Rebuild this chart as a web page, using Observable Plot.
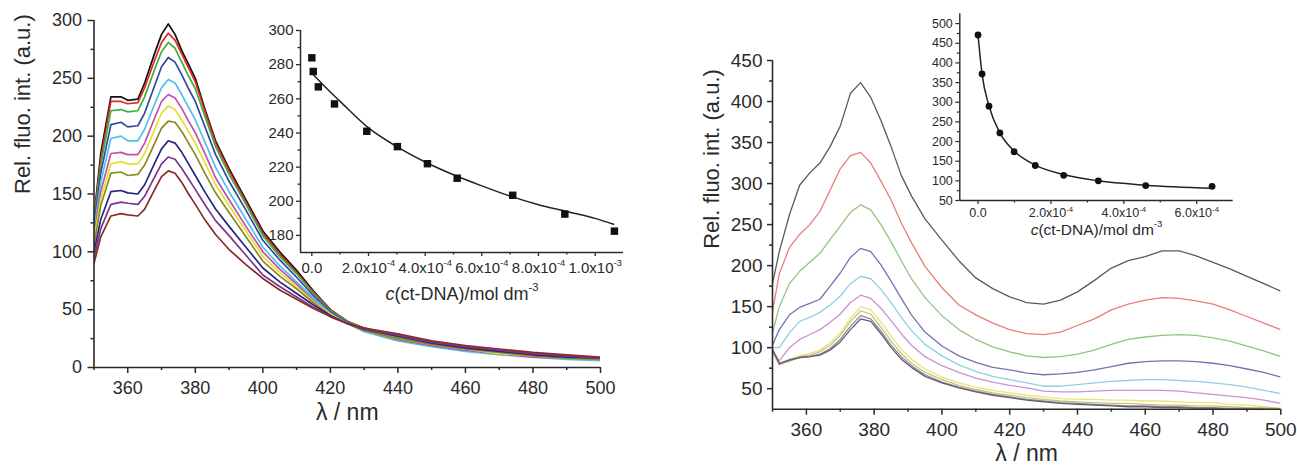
<!DOCTYPE html>
<html><head><meta charset="utf-8">
<script src="https://cdn.jsdelivr.net/npm/d3@7"></script>
<script src="https://cdn.jsdelivr.net/npm/@observablehq/plot@0.6"></script>
<style>
body{margin:0;background:#fff;}
#wrap{position:relative;width:1297px;height:471px;overflow:hidden;background:#fff;}
</style></head><body><div id="wrap"></div>
<script>
const FONT = '"Liberation Sans", Arial, Helvetica, sans-serif';
const AX = "#2a2a2a";

// ---------- Left panel: emission spectra ----------
const lamL = [350,352,355,358,360,363,365,368,370,372,374,376,378,380,383,386,390,395,400,405,410,415,420,425,430,440,450,460,470,480,490,500];
const colorsL = ["#111111","#e0262a","#3fae3a","#2f47a8","#4fc3e6","#c24fae","#e5df2e","#8a8a24","#262680","#7b358f","#8b2a2a"];
const specL0 = [130,185,234,234,231,232,246,272,288,297,288,274,262,250,222,196,172,145,118,100,84,66,50,40,34,27,21,17,13,11,9,8];
const specL1 = [128,180,230,230,228,229,242,266,281,289,283,271,259,247,220,194,170,143,116,98,82,65,50,40,34,27,21,17,14,11,9,8];
const specL2 = [126,175,222,223,221,222,234,258,273,281,276,264,252,241,216,191,167,141,114,96,81,64,49,40,33,26,20,16,13,10,8,7];
const specL3 = [122,168,210,212,208,209,220,244,260,268,264,253,241,230,207,184,161,136,110,93,78,62,48,39,32,25,19,15,12,10,8,7];
const specL4 = [118,160,198,200,196,196,206,228,242,249,246,236,225,214,194,173,152,128,104,88,74,60,47,38,31,23,18,14,11,9,7,6];
const specL5 = [114,152,185,186,184,184,194,216,230,236,233,224,213,203,184,164,145,122,100,85,72,58,46,38,32,24,19,15,12,9,8,7];
const specL6 = [110,146,176,178,176,176,185,206,220,226,223,214,204,194,176,158,140,118,96,82,70,57,46,38,32,25,20,16,12,10,8,7];
const specL7 = [106,140,168,169,166,167,175,194,207,213,212,204,194,184,167,151,134,113,92,79,68,56,45,38,32,25,20,16,13,10,8,7];
const specL8 = [100,128,152,153,151,150,158,177,189,196,194,186,176,166,151,137,122,104,86,74,64,54,45,38,33,27,21,17,14,11,9,8];
const specL9 = [95,120,141,143,142,141,148,165,176,182,180,172,163,154,140,127,114,97,80,70,61,52,44,38,33,28,22,18,15,12,10,8];
const specL10 = [90,113,131,133,132,131,137,154,165,170,168,160,150,141,127,115,102,89,77,67,59,51,44,38,34,29,23,19,16,13,11,9];
const specL = [specL0,specL1,specL2,specL3,specL4,specL5,specL6,specL7,specL8,specL9,specL10];
const yTicksL = [0,50,100,150,200,250,300];
const yMinorL = [25,75,125,175,225,275];
const xTicks = [360,380,400,420,440,460,480,500];
const xMinor = [350,370,390,410,430,450,470,490];

// Left inset
const concL = [0,0.05e-4,0.23e-4,0.8e-4,1.94e-4,3.02e-4,4.08e-4,5.13e-4,7.09e-4,8.93e-4,1.068e-3];
const fluoL = [284,276,267,257,241,232,222,213.5,203.5,192.5,182.5];
const fitConcL = [0,0.5e-4,1e-4,2e-4,3e-4,4e-4,5e-4,6e-4,7e-4,8e-4,9e-4,1e-3,1.065e-3];
const fitFluoL = [275,266.5,258.5,243,232,223,215.5,209,203,198,194,190,186.5];
const insLxTicks = [0,2e-4,4e-4,6e-4,8e-4,1e-3];
const insLxLabels = ["0.0","2.0x10^-4","4.0x10^-4","6.0x10^-4","8.0x10^-4","1.0x10^-3"];
const insLxMinor = [1e-4,3e-4,5e-4,7e-4,9e-4];
const insLyTicks = [180,200,220,240,260,280,300];
const insLyMinor = [190,210,230,250,270,290];

// ---------- Right panel ----------
const lamR = [350,352,355,358,361,364,367,370,373,376,379,382,385,388,391,395,400,405,410,415,420,425,430,435,440,445,450,455,460,465,470,475,480,485,490,495,500];
const colorsR = ["#5a5a5a","#e57f77","#93c483","#7373b3","#8fd0e3","#cf8fd0","#ece27a","#c9c27e","#8c8c8c","#5f5f78"];
const specR0 = [178,217,262,298,313,325,345,370,410,423,405,377,345,310,285,257,231,206,185,172,162,155,153,158,168,182,197,206,211,218,218,212,204,196,187,178,169];
const specR1 = [144,190,222,238,250,266,292,318,334,338,325,303,280,252,228,199,173,152,140,130,122,117,116,119,127,135,146,153,158,161,160,157,153,146,138,130,122];
const specR2 = [118,150,178,193,204,215,232,248,265,274,268,250,229,206,184,161,139,122,110,101,95,90,88,89,92,97,104,110,113,115,116,115,112,108,102,96,89];
const specR3 = [103,122,140,149,154,159,175,191,210,221,217,201,181,160,140,119,102,90,82,76,73,69,67,68,70,73,77,81,83,84,84,83,81,78,74,70,64];
const specR4 = [100,100,118,132,137,143,152,163,178,187,184,171,155,137,121,104,90,79,71,65,61,57,53,53,55,57,59,60,61,61,60,59,57,55,52,48,44];
const specR5 = [97,84,100,110,116,122,131,141,155,164,160,148,133,117,103,89,78,70,63,58,54,51,47,46,46,47,48,48,48,48,47,45,43,41,39,36,32];
const specR6 = [95,80,86,90,93,97,106,118,136,150,146,131,114,98,86,74,64,57,52,48,45,42,40,38,37,37,36,36,35,35,34,33,33,31,30,28,26];
const specR7 = [96,79,85,89,91,95,103,115,132,145,141,125,108,93,81,70,61,54,49,45,42,39,37,35,34,33,32,32,31,30,30,29,29,28,27,27,26];
const specR8 = [97,80,84,88,89,92,99,110,126,139,135,120,103,89,78,67,58,52,47,43,40,37,35,33,32,31,30,29,29,28,28,27,27,26,26,25,25];
const specR9 = [98,81,85,88,89,91,97,107,122,135,132,117,100,86,76,65,57,51,46,42,39,36,34,32,31,30,29,28,28,27,27,26,26,25,25,25,24];
const specR = [specR0,specR1,specR2,specR3,specR4,specR5,specR6,specR7,specR8,specR9];
const yTicksR = [50,100,150,200,250,300,350,400,450];
const yMinorR = [75,125,175,225,275,325,375,425];

// Right inset
const concR = [0,0.11e-4,0.3e-4,0.6e-4,0.99e-4,1.57e-4,2.35e-4,3.3e-4,4.6e-4,6.42e-4];
const fluoR = [471,372,290,222,174,139,114,100,88,86];
const fitConcR = [0,0.11e-4,0.3e-4,0.6e-4,1e-4,1.57e-4,2.35e-4,3.3e-4,4.6e-4,6.42e-4];
const fitFluoR = [471,372,291,222,175,140,116,100,89,81];
const insRxTicks = [0,2e-4,4e-4,6e-4];
const insRxLabels = ["0.0","2.0x10^-4","4.0x10^-4","6.0x10^-4"];
const insRxMinor = [1e-4,3e-4,5e-4];
const insRyTicks = [50,100,150,200,250,300,350,400,450,500];
const insRyMinor = [75,125,175,225,275,325,375,425,475];

const yLabel = "Rel. fluo. int. (a.u.)";
const xLabel = "λ / nm";
const cLabel = "{c}(ct-DNA)/mol dm^-3";

// ---------- helpers ----------
const wrap = document.getElementById("wrap");
function place(el, left, top) {
  el.style.position = "absolute";
  el.style.left = left + "px";
  el.style.top = top + "px";
  wrap.appendChild(el);
}
function richText(svg) {
  svg.querySelectorAll("text").forEach(t => {
    const s = t.textContent;
    if (!/[\^{]/.test(s)) return;
    const parts = s.match(/\{[^}]*\}|\^[^\s{]*|[^{^]+/g);
    t.textContent = "";
    for (const p of parts) {
      const ts = document.createElementNS("http://www.w3.org/2000/svg", "tspan");
      if (p[0] === "{") { ts.textContent = p.slice(1, -1); ts.setAttribute("font-style", "italic"); }
      else if (p[0] === "^") { ts.textContent = p.slice(1); ts.setAttribute("font-size", "0.62em"); ts.setAttribute("dy", "-0.75em"); }
      else ts.textContent = p;
      t.appendChild(ts);
    }
  });
}
const spectra = (lam, specs, colors, sw) =>
  specs.map((vals, k) => Plot.line(lam.map((l, i) => ({l, v: vals[i]})),
    {x: "l", y: "v", stroke: colors[k], strokeWidth: sw, clip: true}));
const baseStyle = (fs) => ({fontFamily: FONT, fontSize: fs + "px", color: AX, background: "transparent", overflow: "visible"});

// ---------- Left main ----------
const leftMain = Plot.plot({
  width: 640, height: 471,
  marginLeft: 93.5, marginRight: 40, marginTop: 20, marginBottom: 104,
  x: {domain: [350, 500], label: null},
  y: {domain: [0, 300], label: null},
  style: baseStyle(18),
  marks: [
    ...spectra(lamL, specL, colorsL, 1.7),
    Plot.ruleX([350], {stroke: AX, strokeWidth: 1.6}),
    Plot.ruleY([0], {stroke: AX, strokeWidth: 1.6}),
    Plot.axisX(xTicks, {tickSize: 6, tickPadding: 8, strokeWidth: 1.5, tickFormat: d => String(d)}),
    Plot.axisX(xMinor, {tickSize: 3, strokeWidth: 1.5, tickFormat: () => ""}),
    Plot.axisY(yTicksL, {tickSize: 6, tickPadding: 6, strokeWidth: 1.5, tickFormat: d => String(d)}),
    Plot.axisY(yMinorL, {tickSize: 3, strokeWidth: 1.5, tickFormat: () => ""}),
    Plot.text([yLabel], {frameAnchor: "left", rotate: -90, dx: -71, fontSize: 22, fill: AX}),
    Plot.text([xLabel], {frameAnchor: "bottom", dy: 52.5, fontSize: 23, fill: AX})
  ]
});
place(leftMain, 0, 0);

// ---------- Left inset ----------
const mapL = new Map(insLxTicks.map((t, i) => [t, insLxLabels[i]]));
const leftInset = Plot.plot({
  width: 420, height: 320,
  marginLeft: 80, marginRight: 17, marginTop: 30, marginBottom: 68,
  x: {domain: [-0.4e-4, 1.1e-3], label: null},
  y: {domain: [170, 300], label: null},
  style: baseStyle(15),
  marks: [
    Plot.ruleX([-0.4e-4], {stroke: AX, strokeWidth: 1.5}),
    Plot.ruleY([170], {stroke: AX, strokeWidth: 1.5}),
    Plot.axisX(insLxTicks, {tickSize: 4, tickPadding: 6, strokeWidth: 1.3, tickFormat: d => mapL.get(d)}),
    Plot.axisX(insLxMinor, {tickSize: 2.5, strokeWidth: 1.3, tickFormat: () => ""}),
    Plot.axisY(insLyTicks, {tickSize: 4, tickPadding: 3, strokeWidth: 1.3, tickFormat: d => String(d)}),
    Plot.axisY(insLyMinor, {tickSize: 2.5, strokeWidth: 1.3, tickFormat: () => ""}),
    Plot.line(fitConcL.map((c, i) => ({c, f: fitFluoL[i]})), {x: "c", y: "f", curve: "monotone-x", stroke: "#222", strokeWidth: 1.5}),
    Plot.dot(concL.map((c, i) => ({c, f: fluoL[i]})), {x: "c", y: "f", symbol: "square", r: 4.2, fill: "#111", stroke: "none"}),
    Plot.text([cLabel], {frameAnchor: "bottom", dy: 47, fontSize: 18, fill: AX})
  ]
});
richText(leftInset);
place(leftInset, 220, 0);

// ---------- Right main ----------
const rightMain = Plot.plot({
  width: 657, height: 471,
  marginLeft: 132, marginRight: 16.7, marginTop: 60, marginBottom: 62.3,
  x: {domain: [350, 500], label: null},
  y: {domain: [25, 450], label: null},
  style: baseStyle(19),
  marks: [
    ...spectra(lamR, specR, colorsR, 1.3),
    Plot.ruleX([350], {stroke: AX, strokeWidth: 1.6}),
    Plot.ruleY([25], {stroke: AX, strokeWidth: 1.6}),
    Plot.axisX(xTicks, {tickSize: 6, tickPadding: 7, strokeWidth: 1.5, tickFormat: d => String(d)}),
    Plot.axisX(xMinor, {tickSize: 3, strokeWidth: 1.5, tickFormat: () => ""}),
    Plot.axisY(yTicksR, {tickSize: 5, tickPadding: 5, strokeWidth: 1.5, tickFormat: d => String(d)}),
    Plot.axisY(yMinorR, {tickSize: 3, strokeWidth: 1.5, tickFormat: () => ""}),
    Plot.text([yLabel], {frameAnchor: "left", rotate: -90, dx: -61, dy: 14, fontSize: 22, fill: AX}),
    Plot.text([xLabel], {frameAnchor: "bottom", dy: 52, fontSize: 23, fill: AX})
  ]
});
place(rightMain, 640, 0);

// ---------- Right inset ----------
const mapR = new Map(insRxTicks.map((t, i) => [t, insRxLabels[i]]));
const rightInset = Plot.plot({
  width: 417, height: 260,
  marginLeft: 79.3, marginRight: 64.3, marginTop: 13.3, marginBottom: 60,
  x: {domain: [-0.5e-4, 7e-4], label: null},
  y: {domain: [50, 525], label: null},
  style: baseStyle(12.5),
  marks: [
    Plot.ruleX([-0.5e-4], {stroke: AX, strokeWidth: 1.4}),
    Plot.ruleY([50], {stroke: AX, strokeWidth: 1.4}),
    Plot.axisX(insRxTicks, {tickSize: 4, tickPadding: 4, strokeWidth: 1.2, tickFormat: d => mapR.get(d)}),
    Plot.axisX(insRxMinor, {tickSize: 2.5, strokeWidth: 1.2, tickFormat: () => ""}),
    Plot.axisY(insRyTicks, {tickSize: 4, tickPadding: 3, strokeWidth: 1.2, tickFormat: d => String(d)}),
    Plot.axisY(insRyMinor, {tickSize: 2.5, strokeWidth: 1.2, tickFormat: () => ""}),
    Plot.line(fitConcR.map((c, i) => ({c, f: fitFluoR[i]})), {x: "c", y: "f", curve: "monotone-x", stroke: "#222", strokeWidth: 1.5}),
    Plot.dot(concR.map((c, i) => ({c, f: fluoR[i]})), {x: "c", y: "f", r: 3.4, fill: "#111", stroke: "none"}),
    Plot.text([cLabel], {frameAnchor: "bottom", dy: 34, fontSize: 15.5, fill: AX})
  ]
});
richText(rightInset);
place(rightInset, 880, 0);
</script></body></html>
